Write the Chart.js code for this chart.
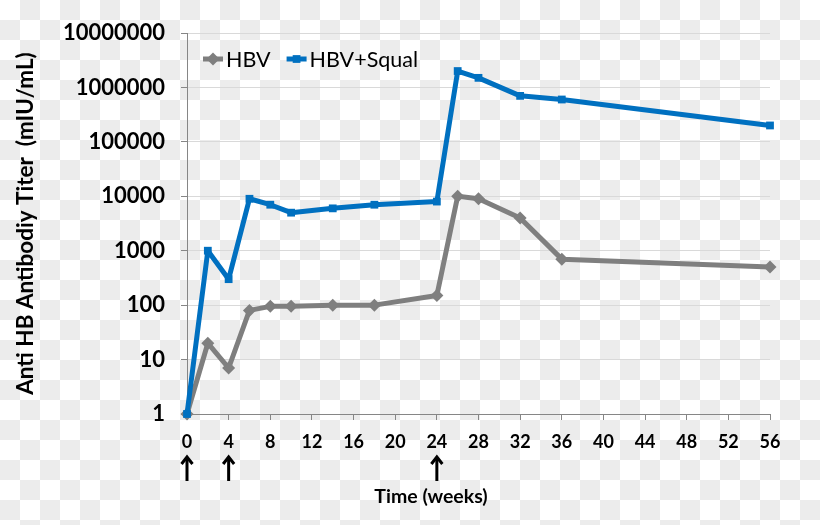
<!DOCTYPE html>
<html>
<head>
<meta charset="utf-8">
<script src="https://cdn.jsdelivr.net/npm/chart.js@4.4.1/dist/chart.umd.min.js"></script>
<style>
html, body { margin: 0; padding: 0; }
body {
    width: 820px;
    height: 525px;
    background-color: #fff;
    background-image:
        linear-gradient(45deg, #ececec 25%, transparent 25%, transparent 75%, #ececec 75%),
        linear-gradient(45deg, #ececec 25%, transparent 25%, transparent 75%, #ececec 75%);
    background-size: 40px 40px;
    background-position: 0 0, 20px 20px;
}
canvas { display: block; }
</style>
</head>
<body>
<canvas id="chart" width="820" height="525"></canvas>
<script>
const weeks = [0, 2, 4, 6, 8, 10, 14, 18, 24, 26, 28, 32, 36, 56];
const hbv = [1, 20, 7, 80, 95, 95, 100, 100, 150, 10000, 9000, 4000, 700, 500];
const hbvSqual = [1, 1000, 300, 9000, 7000, 5000, 6000, 7000, 8000, 2000000, 1500000, 700000, 600000, 200000];
const yTicks = [1, 10, 100, 1000, 10000, 100000, 1000000, 10000000];
const boostWeeks = [0, 4, 24];
const seriesNames = ['HBV', 'HBV+Squal'];

const gray = '#7f7f7f';
const blue = '#0070c0';

function toPoints(values) {
    return weeks.map((w, i) => ({ x: w, y: values[i] }));
}

function drawMarker(ctx, style, x, y, r, color) {
    ctx.fillStyle = color;
    ctx.beginPath();
    if (style === 'rectRot') {
        ctx.moveTo(x, y - r);
        ctx.lineTo(x + r, y);
        ctx.lineTo(x, y + r);
        ctx.lineTo(x - r, y);
    } else {
        const s = r * Math.SQRT1_2;
        ctx.rect(x - s, y - s, 2 * s, 2 * s);
    }
    ctx.closePath();
    ctx.fill();
}

// legend sits inside the plot, top left, line + marker like Excel
const insideLegend = {
    id: 'insideLegend',
    afterDraw(chart) {
        const ctx = chart.ctx;
        const area = chart.chartArea;
        let x = area.left + 16;
        const y = area.top + 26;
        ctx.save();
        ctx.font = '21.5px Lato';
        ctx.textBaseline = 'middle';
        ctx.textAlign = 'left';
        chart.data.datasets.forEach(ds => {
            ctx.strokeStyle = ds.borderColor;
            ctx.lineWidth = 5;
            ctx.beginPath();
            ctx.moveTo(x, y);
            ctx.lineTo(x + 20, y);
            ctx.stroke();
            drawMarker(ctx, ds.pointStyle, x + 10, y, ds.pointRadius, ds.borderColor);
            ctx.fillStyle = '#000';
            ctx.fillText(ds.label, x + 23, y + 1);
            x += 23 + ctx.measureText(ds.label).width + 16;
        });
        ctx.restore();
    }
};

// boost arrows under the x axis and the x axis title
const arrowsAndTitle = {
    id: 'arrowsAndTitle',
    afterDraw(chart) {
        const ctx = chart.ctx;
        const xs = chart.scales.x;
        ctx.save();
        ctx.strokeStyle = '#000';
        ctx.lineWidth = 3;
        boostWeeks.forEach(w => {
            const px = xs.getPixelForValue(w);
            ctx.beginPath();
            ctx.moveTo(px, 481);
            ctx.lineTo(px, 458);
            ctx.stroke();
            ctx.beginPath();
            ctx.moveTo(px - 5.5, 464);
            ctx.lineTo(px, 457);
            ctx.lineTo(px + 5.5, 464);
            ctx.stroke();
        });
        ctx.fillStyle = '#000';
        ctx.font = 'bold 19.5px Lato';
        ctx.textAlign = 'center';
        ctx.textBaseline = 'middle';
        ctx.fillText('Time (weeks)', 431, 497);
        ctx.restore();
    }
};

const ctx = document.getElementById('chart').getContext('2d');
const chart = new Chart(ctx, {
    type: 'line',
    data: {
        datasets: [{
            label: seriesNames[0],
            data: toPoints(hbv),
            borderColor: gray,
            backgroundColor: gray,
            borderWidth: 5,
            pointStyle: 'rectRot',
            pointRadius: 6.5,
            pointBorderWidth: 0,
            pointBackgroundColor: gray,
            borderJoinStyle: 'round',
            clip: false,
            order: 1
        }, {
            label: seriesNames[1],
            data: toPoints(hbvSqual),
            borderColor: blue,
            backgroundColor: blue,
            borderWidth: 5,
            pointStyle: 'rect',
            pointRadius: 5.5,
            pointBorderWidth: 0,
            pointBackgroundColor: blue,
            borderJoinStyle: 'round',
            clip: false,
            order: 0
        }]
    },
    options: {
        responsive: false,
        animation: false,
        layout: { padding: { top: 33, right: 50, left: 0, bottom: 0 } },
        plugins: {
            legend: { display: false },
            tooltip: { enabled: false }
        },
        scales: {
            x: {
                type: 'linear',
                min: 0,
                max: 56,
                ticks: {
                    stepSize: 4,
                    color: '#000',
                    padding: 11,
                    font: { family: 'Lato', size: 18, weight: 'bold' }
                },
                grid: { drawOnChartArea: false, tickLength: 6, tickColor: '#868686' },
                border: { color: '#868686', width: 1 },
                afterFit: s => { s.height = 111; }
            },
            y: {
                type: 'logarithmic',
                min: 1,
                max: 10000000,
                afterBuildTicks: s => { s.ticks = yTicks.map(v => ({ value: v })); },
                ticks: {
                    color: '#000',
                    padding: 16,
                    font: { family: 'Lato', size: 22, weight: 'bold' },
                    callback: v => String(v)
                },
                grid: { color: '#d9d9d9', tickLength: 6, tickColor: '#868686' },
                border: { color: '#868686', width: 1 },
                title: {
                    display: true,
                    text: 'Anti HB Antibodiy Titer  (mIU/mL)',
                    color: '#000',
                    font: { family: 'Lato', size: 22.5, weight: 'bold' },
                    padding: { top: 12, bottom: 0 }
                },
                afterFit: s => { s.width = 187; }
            }
        }
    },
    plugins: [insideLegend, arrowsAndTitle]
});
</script>
</body>
</html>
